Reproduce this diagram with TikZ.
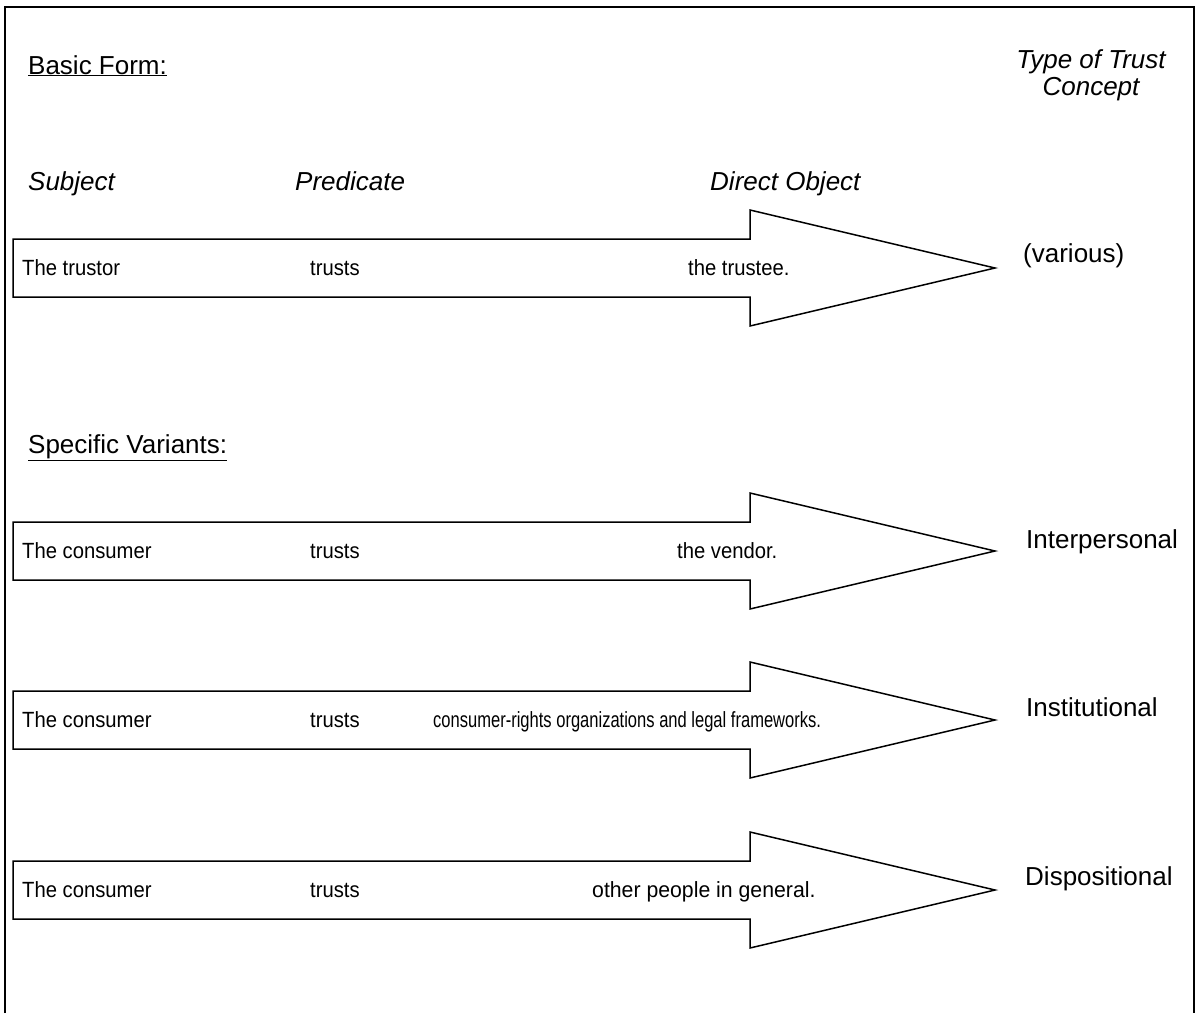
\documentclass[tikz,border=0pt]{standalone}
\usepackage{fontspec}
\setmainfont{Liberation Sans}
\newfontfamily\shaftfont[FakeStretch=0.92]{Liberation Sans}
% block arrow: #1 = vertical centre of the arrow
\newcommand\trustarrow[1]{%
  \draw[arrowshape] (13,#1-29) -- (750,#1-29) -- (750,#1-58) -- (995,#1)
    -- (750,#1+58) -- (750,#1+29) -- (13,#1+29) -- cycle;}
\begin{document}
\begin{tikzpicture}[x=1pt,y=-1pt,
  frameline/.style={line width=2pt},
  arrowshape/.style={draw, line width=1.5pt, line join=miter},
  header/.style={font=\fontsize{26}{27}\selectfont, inner sep=0pt, anchor=base west},
  centerhead/.style={font=\fontsize{26}{27}\selectfont\itshape, inner sep=0pt, anchor=base},
  rowtext/.style={font=\fontsize{22}{24}\shaftfont, inner sep=0pt, anchor=base west},
]
\useasboundingbox (0,0) rectangle (1197,1013);

% outer frame, open at the bottom
\draw[frameline] (5,1013) -- (5,7) -- (1194,7) -- (1194,1013);

% headings
\node[header] (basic) at (28,74) {\underline{Basic Form:}};
\node[centerhead] (type1) at (1091,68) {Type of Trust};
\node[centerhead] (type2) at (1091,95) {Concept};
\node[header, font=\fontsize{26}{27}\selectfont\itshape] (subj) at (28,190) {Subject};
\node[header, font=\fontsize{26}{27}\selectfont\itshape] (pred) at (295,190) {Predicate};
\node[header, font=\fontsize{26}{27}\selectfont\itshape] (dobj) at (710,190) {Direct Object};
\node[header] (variants) at (28,453) {\underline{Specific Variants:}};

% basic form
\trustarrow{268}
\node[rowtext] (s1) at (22,275) {The trustor};
\node[rowtext] (p1) at (310,275) {trusts};
\node[rowtext] (o1) at (688,275) {the trustee.};
\node[header] (c1) at (1023,262) {(various)};

% interpersonal
\trustarrow{551}
\node[rowtext] (s2) at (22,558) {The consumer};
\node[rowtext] (p2) at (310,558) {trusts};
\node[rowtext] (o2) at (677,558) {the vendor.};
\node[header] (c2) at (1026,548) {Interpersonal};

% institutional
\trustarrow{720}
\node[rowtext] (s3) at (22,727) {The consumer};
\node[rowtext] (p3) at (310,727) {trusts};
\node[rowtext] (o3) at (433,727) {\scalebox{0.817}[1]{consumer-rights organizations and legal frameworks.}};
\node[header] (c3) at (1026,716) {Institutional};

% dispositional
\trustarrow{890}
\node[rowtext] (s4) at (22,897) {The consumer};
\node[rowtext] (p4) at (310,897) {trusts};
\node[rowtext] (o4) at (592,897) {\scalebox{1.05}[1]{other people in general.}};
\node[header] (c4) at (1025,885) {Dispositional};
\end{tikzpicture}
\end{document}
